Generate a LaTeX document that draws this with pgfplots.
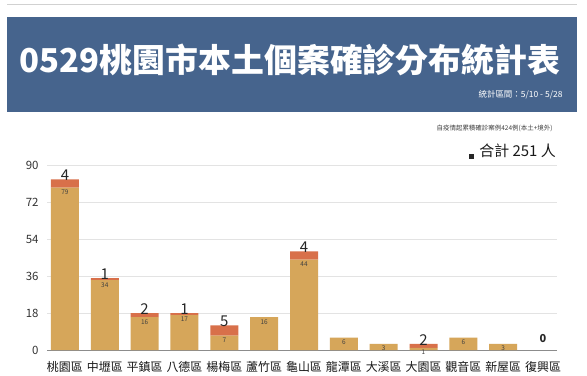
\documentclass[border=0pt]{standalone}
\usepackage{fontspec}
\setmainfont{Noto Sans CJK TC}
\usepackage{pgfplots}
\pgfplotsset{compat=1.18}
\usepackage{pgfplotstable}
\definecolor{banner}{HTML}{46648D}
\definecolor{gold}{HTML}{D6A65A}
\definecolor{redseg}{HTML}{D8704A}
\definecolor{gridc}{HTML}{E3E3E3}

% local = 本土 (gold), imp = top segment (red), total = local + imp
\pgfplotstableread{
x local imp total lab toplab
0 79 4 83 79 4
1 34 1 35 34 1
2 16 2 18 16 2
3 17 1 18 17 1
4 7 5 12 7 5
5 16 0 16 16 {}
6 44 4 48 44 4
7 6 0 6 6 {}
8 3 0 3 3 {}
9 1 2 3 1 2
10 6 0 6 6 {}
11 3 0 3 3 {}
12 0 0 0 {} {}
}\dataT

\pgfplotsset{
  common/.style={
    at={(47bp,-350bp)}, anchor=south west,
    scale only axis, width=510bp, height=185bp,
    xmin=-0.45, xmax=12.35, ymin=0, ymax=90,
    clip=false,
  }
}

\begin{document}
\begin{tikzpicture}[x=1bp,y=-1bp]
\useasboundingbox (0,0) rectangle (587,375);
\fill[white] (0,0) rectangle (587,375);
\draw[line width=1bp, color=black!18] (7,4) -- (577,4);
\fill[banner] (7,17) rectangle (577,112);
\node[text=white, font=\fontsize{33}{33}\selectfont\bfseries] at (290,60) {0529桃園市本土個案確診分布統計表};
\node[anchor=east, text=white, font=\fontsize{8.5}{9}\selectfont] at (566,95) {統計區間：5/10 - 5/28};
\node[anchor=east, text=black!75, font=\fontsize{6.5}{7}\selectfont] at (556,128) {自疫情起累積確診案例424例(本土+境外)};
\node[anchor=east, text=black!90, font=\fontsize{15}{15}\selectfont, inner sep=0pt] (tot) at (556,151) {合計 251 人};
\fill[black!85] ([xshift=-10bp,yshift=-3bp]tot.west) rectangle ++(5,5);
\begin{axis}[
  common,
  ytick={0,18,36,54,72,90},
  xtick={0,...,12},
  xticklabels={桃園區,中壢區,平鎮區,八德區,楊梅區,蘆竹區,龜山區,龍潭區,大溪區,大園區,觀音區,新屋區,復興區},
  ybar stacked, bar width=28bp,
  axis x line*=bottom,
  axis y line*=left,
  x axis line style={draw=black!45, line width=0.8bp, -},
  y axis line style={draw=none},
  ymajorgrids, grid style={draw=gridc, line width=0.8bp},
  major tick length=0pt,
  tick style={draw=none},
  /pgf/number format/assume math mode=true,
  yticklabel style={font=\fontsize{11.5}{12}\selectfont, text=black!80, xshift=-5bp},
  xticklabel style={font=\fontsize{12}{12}\selectfont, text=black!90, yshift=-8bp},
]
\addplot[fill=gold, draw=none] table[x=x, y=local] {\dataT};
\addplot[fill=redseg, draw=none] table[x=x, y=imp] {\dataT};
\end{axis}
\begin{axis}[common, hide axis]
\addplot[draw=none, mark=none,
  nodes near coords, point meta=explicit symbolic,
  every node near coord/.style={anchor=north, font=\fontsize{6.5}{6.5}\selectfont, text=black!75, inner sep=2bp}]
  table[x=x, y=local, meta=lab] {\dataT};
\addplot[draw=none, mark=none,
  nodes near coords, point meta=explicit symbolic,
  every node near coord/.style={anchor=south, font=\fontsize{15}{15}\selectfont, text=black!85, inner sep=0bp, yshift=-1.5bp}]
  table[x=x, y=total, meta=toplab] {\dataT};
\addplot[draw=none, mark=none,
  nodes near coords, point meta=explicit symbolic,
  every node near coord/.style={anchor=south, font=\fontsize{11}{11}\selectfont\bfseries, text=black!85, inner sep=0bp, yshift=7bp}]
  coordinates {(12,0) [0]};
\end{axis}
\end{tikzpicture}
\end{document}
